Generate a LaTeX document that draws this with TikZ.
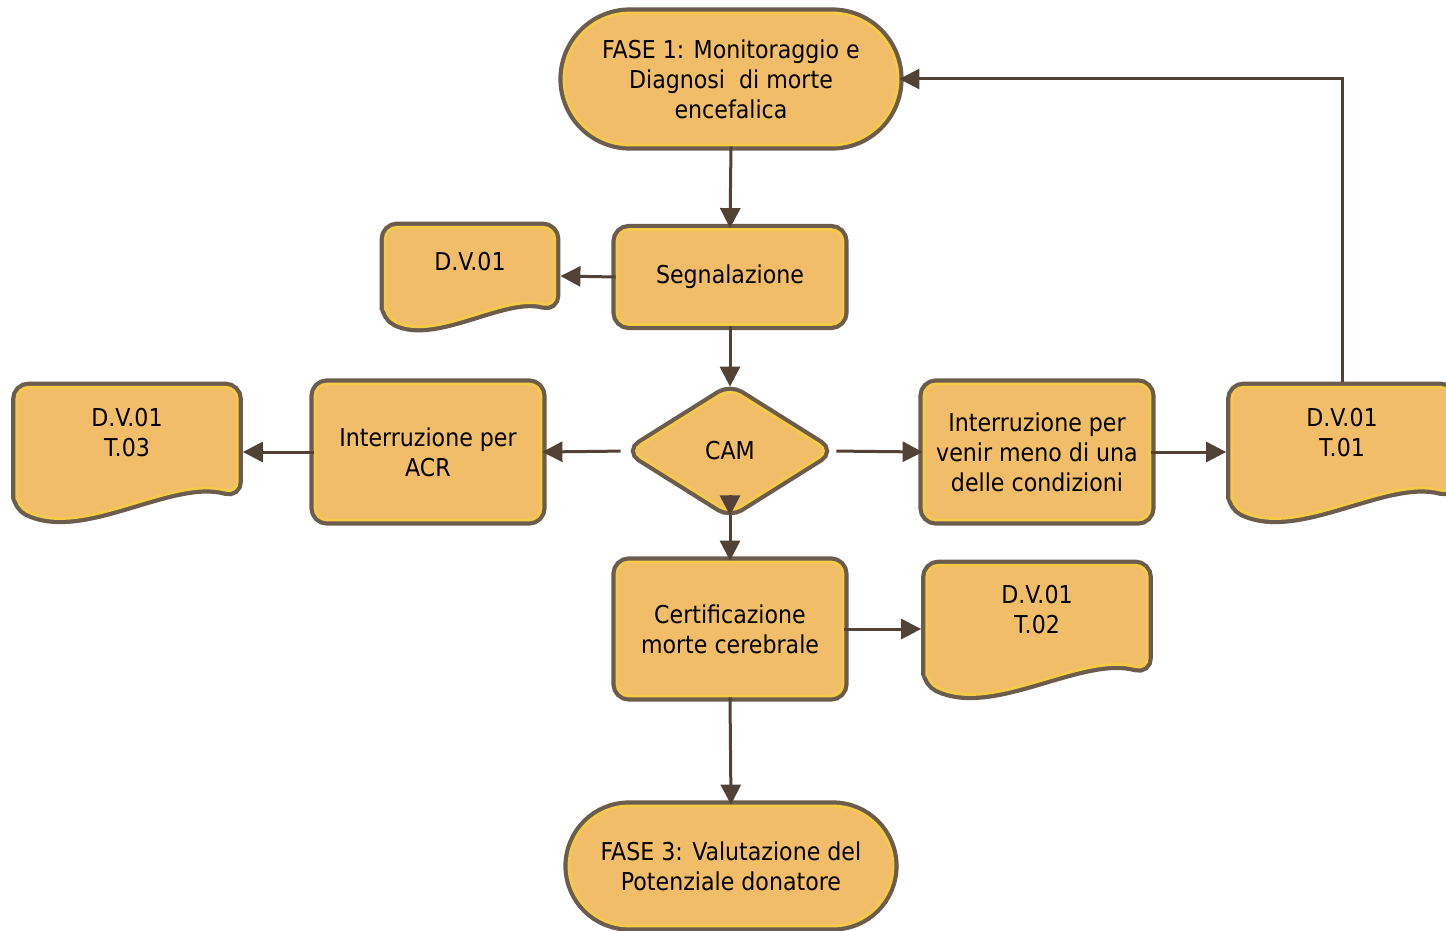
\documentclass[tikz,border=0pt]{standalone}
\usepackage{fontspec}
\setmainfont{DejaVu Sans Condensed}
\usetikzlibrary{arrows.meta}
\usetikzlibrary{shapes.geometric}
\usetikzlibrary{calc}
\usetikzlibrary{backgrounds}
\usetikzlibrary{shadows}

\definecolor{boxfill}{RGB}{241,189,104}
\definecolor{boxring}{RGB}{244,202,72}
\definecolor{boxedge}{RGB}{108,92,78}
\definecolor{flowcol}{RGB}{82,66,54}

\tikzset{
  blockline/.style={fill=boxfill, draw=boxring, line width=1.4pt,
    drop shadow={shadow xshift=1.6pt, shadow yshift=-1.6pt, fill=boxedge!80!black, opacity=0.9},
    preaction={draw=boxedge, line width=5.6pt}},
  blocktext/.style={align=center, text=black, font=\fontsize{12.3}{15}\selectfont},
  stepbox/.style={blockline, blocktext, rectangle, rounded corners=6pt,
    minimum width=113pt, minimum height=68pt, inner sep=2pt},
  terminal/.style={blockline, blocktext, rectangle, inner sep=2pt},
  decision/.style={blockline, blocktext, diamond, rounded corners=6pt,
    minimum width=100pt, minimum height=63pt, inner sep=0pt},
  docbox/.style={rectangle, minimum width=115.5pt, minimum height=70pt, inner sep=0pt},
  flow/.style={draw=flowcol, line width=1.5pt, -{Triangle[length=10pt,width=10pt]}}
}

% document shape drawn around a (empty) node
\newcommand\docshape[1]{%
  \path[blockline, rounded corners=6pt]
    let \p3=($(#1.north west)+(2.8pt,-2.8pt)$), \p4=($(#1.south east)+(-2.8pt,2.8pt)$),
        \n1={\x4-\x3}, \n2={\y3-\y4} in
    (\x3,{\y4+0.08*\n2}) -- (\x3,\y3) -- (\x4,\y3) -- (\x4,{\y4+0.18*\n2})
    .. controls ({\x4-0.30*\n1},{\y4+0.32*\n2}) and ({\x3+0.30*\n1},{\y4-0.17*\n2}) .. (\x3,{\y4+0.08*\n2})
    -- cycle;}

\begin{document}
\begin{tikzpicture}[x=0.5pt,y=-0.5pt]
\useasboundingbox (0,0) rectangle (1446,931);

% Terminals
\node[terminal, minimum width=167pt, minimum height=66pt, rounded corners=33pt] (fase1) at (731,79) {FASE 1: Monitoraggio e\\Diagnosi\ \ di morte\\encefalica};
\node[terminal, minimum width=162pt, minimum height=60pt, rounded corners=30pt] (fase3) at (731,866) {FASE 3: Valutazione del\\Potenziale donatore};

% Process boxes
\node[stepbox, minimum height=47.5pt] (segn) at (730,277) {Segnalazione};
\node[decision] (cam) at (730,451) {CAM};
\node[stepbox] (acr) at (428,452) {Interruzione per\\ACR};
\node[stepbox] (venir) at (1037,452) {Interruzione per\\venir meno di una\\delle condizioni};
\node[stepbox, minimum height=67pt] (cert) at (730,629) {Certificazione\\morte cerebrale};

% Documents
\node[docbox, minimum width=90pt, minimum height=54pt] (dv01) at (470,276) {};
\node[docbox] (t03) at (127,452) {};
\node[docbox] (t01) at (1342,452) {};
\node[docbox, minimum height=69pt] (t02) at (1037,629) {};
\begin{scope}[on background layer]
\docshape{dv01}
\docshape{t03}
\docshape{t01}
\docshape{t02}
\end{scope}
\node[blocktext] (dv01txt) at ([yshift=7pt]dv01.center) {D.V.01};
\node[blocktext] (t03txt) at ([yshift=9.5pt]t03.center) {D.V.01\\T.03};
\node[blocktext] (t01txt) at ([yshift=9.5pt]t01.center) {D.V.01\\T.01};
\node[blocktext] (t02txt) at ([yshift=9.5pt]t02.center) {D.V.01\\T.02};

% Connectors
\draw[flow] (fase1.south) -- (segn.north);
\draw[flow] (segn.west) -- (dv01.east);
\draw[flow] (segn.south) -- (cam.north);
\draw[flow, shorten <=4pt] (cam.west) -- (acr.east);
\draw[flow] (acr.west) -- (t03.east);
\draw[flow, shorten <=2.5pt] (cam.east) -- (venir.west);
\draw[flow] (venir.east) -- (t01.west);
\draw[flow] (t01.north) |- (fase1.east);
\draw[flow] (cam.south) -- (cert.north);
\draw[flow] ([yshift=10pt]cam.south) -- (cam.south);
\draw[flow] (cert.east) -- (t02.west);
\draw[flow] (cert.south) -- (fase3.north);

\end{tikzpicture}
\end{document}
